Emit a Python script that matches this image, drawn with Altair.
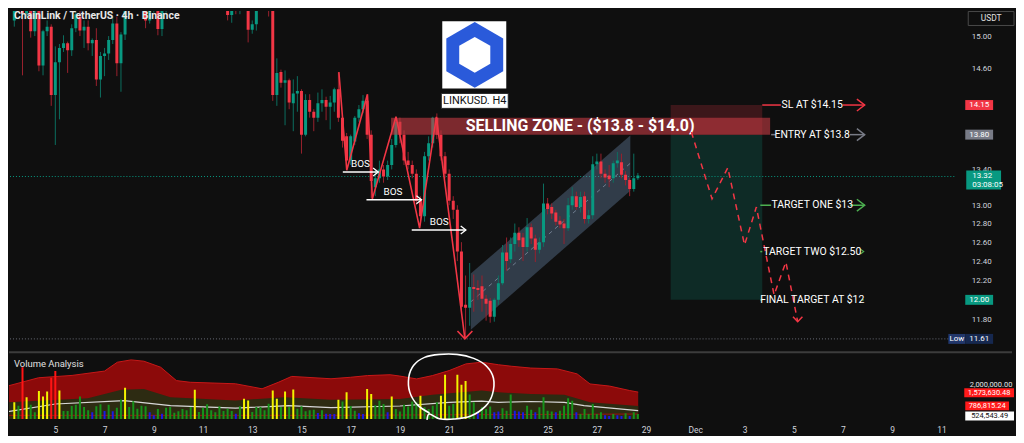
import altair as alt
import pandas as pd

# ---------------- style ----------------
BG = "#0f0f0f"
UP, DOWN = "#089981", "#f23645"
UP_WICK, DOWN_WICK = "#0c6f60", "#99212d"
TXT = "#d1d4dc"
FONT = "Roboto"
W, H_MAIN, H_VOL = 950, 341, 68
X_DOM = [3.32, 41.32]          # day of Nov (Dec 1 = 31)
P_DOM = [11.498, 15.321]       # USDT, log scale
V_DOM = [0.0, 4.05]            # volume, millions

# ---------------- candle data (4h bars, Nov 3 08:00 onwards) ----------------
DAY0, FIRST_BAR, BARS_PER_DAY = 3, 2, 6
c_open = [
    15.20, 15.45, 15.62, 15.29, 15.40, 15.06, 15.48, 14.63, 15.06, 15.12,
    14.27, 14.67, 14.85, 14.91, 14.82, 15.10, 15.25, 15.07, 15.12, 14.91,
    14.95, 14.46, 14.75, 14.78, 14.95, 15.16, 14.66, 15.02, 15.50, 15.80,
    15.70, 15.90, 15.60, 15.20, 15.38, 15.55, 15.09, 15.36, 15.55, 15.80,
    16.10, 16.00, 16.30, 16.20, 16.40, 16.20, 16.10, 16.30, 16.00, 15.90,
    16.10, 15.80, 15.55, 15.27, 15.40, 15.32, 15.50, 15.37, 15.08, 15.15,
    15.50, 15.60, 15.55, 15.33, 14.27, 14.55, 14.42, 14.45, 14.17, 14.29,
    14.32, 13.80, 14.21, 14.07, 14.00, 14.17, 14.21, 14.13, 14.18, 14.34,
    14.00, 13.78, 13.50, 13.72, 14.00, 14.10, 14.20, 13.80, 13.20, 13.30,
    13.40, 13.32, 13.45, 13.68, 13.95, 13.80, 13.50, 13.45, 13.35, 13.05,
    12.88, 13.55, 13.70, 14.00, 13.80, 13.55, 13.35, 13.05, 12.95, 12.50,
    11.95, 11.92, 12.13, 12.12, 12.14, 12.01, 11.99, 11.83, 12.00, 12.17,
    12.49, 12.42, 12.58, 12.70, 12.65, 12.55, 12.76, 12.64, 12.52, 12.60,
    13.02, 12.98, 12.92, 12.83, 12.80, 12.75, 13.00, 13.10, 12.98, 13.10,
    12.85, 12.89, 13.46, 13.49, 13.35, 13.33, 13.30, 13.47, 13.48, 13.34,
    13.28, 13.18, 13.30,
]
c_high = [
    15.50, 15.70, 15.70, 15.55, 15.48, 15.60, 15.60, 15.08, 15.20, 15.15,
    14.87, 14.90, 15.01, 14.93, 15.15, 15.45, 15.35, 15.20, 15.20, 14.97,
    15.10, 14.80, 14.85, 15.00, 15.25, 15.25, 15.05, 15.60, 15.95, 16.00,
    16.05, 16.00, 15.70, 15.45, 15.60, 15.60, 15.45, 15.65, 15.90, 16.15,
    16.20, 16.40, 16.45, 16.50, 16.55, 16.30, 16.40, 16.35, 16.10, 16.20,
    16.15, 15.90, 15.60, 15.50, 15.45, 15.55, 15.60, 15.42, 15.20, 15.60,
    15.70, 15.70, 15.60, 15.38, 14.72, 14.58, 14.57, 14.47, 14.46, 14.50,
    14.34, 14.28, 14.28, 14.10, 14.30, 14.34, 14.25, 14.26, 14.36, 14.55,
    14.05, 13.82, 13.80, 14.02, 14.15, 14.27, 14.27, 13.85, 13.40, 13.50,
    13.45, 13.50, 13.75, 14.01, 14.00, 13.85, 13.60, 13.50, 13.40, 13.10,
    13.60, 13.78, 14.01, 14.05, 13.85, 13.60, 13.40, 13.10, 13.00, 12.60,
    12.25, 12.38, 12.26, 12.20, 12.25, 12.05, 12.02, 12.02, 12.25, 12.57,
    12.65, 12.65, 12.80, 12.76, 12.70, 12.86, 12.80, 12.68, 12.65, 13.24,
    13.08, 13.02, 12.95, 12.88, 12.85, 13.08, 13.20, 13.15, 13.15, 13.15,
    12.95, 13.55, 13.58, 13.58, 13.40, 13.45, 13.50, 13.60, 13.58, 13.38,
    13.30, 13.58, 13.36,
]
c_low = [
    15.12, 15.40, 14.51, 15.25, 14.98, 15.00, 14.56, 14.51, 15.00, 14.14,
    13.68, 13.98, 14.80, 14.54, 14.75, 15.05, 15.00, 14.85, 14.82, 14.75,
    14.38, 14.24, 14.50, 14.70, 14.90, 14.50, 14.31, 14.95, 15.45, 15.60,
    15.60, 15.50, 15.10, 15.16, 15.30, 15.01, 15.00, 15.30, 15.48, 15.70,
    15.90, 15.95, 16.10, 16.10, 16.10, 16.00, 16.00, 15.90, 15.80, 15.85,
    15.75, 15.50, 15.20, 15.17, 15.28, 15.28, 15.33, 14.92, 15.03, 15.07,
    15.45, 15.45, 15.25, 14.20, 14.14, 14.36, 13.91, 14.10, 13.84, 14.07,
    13.58, 13.78, 14.00, 13.84, 13.95, 14.07, 13.97, 13.86, 14.07, 13.95,
    13.65, 13.41, 13.45, 13.68, 13.95, 14.05, 13.75, 13.08, 13.10, 13.25,
    13.25, 13.28, 13.40, 13.65, 13.70, 13.45, 13.40, 13.30, 13.00, 12.78,
    12.82, 13.50, 13.65, 13.75, 13.50, 13.30, 13.00, 12.85, 12.40, 11.85,
    11.61, 11.74, 11.88, 12.00, 11.88, 11.79, 11.77, 11.78, 11.95, 12.15,
    12.30, 12.38, 12.50, 12.55, 12.40, 12.50, 12.58, 12.39, 12.48, 12.55,
    12.90, 12.85, 12.78, 12.75, 12.58, 12.72, 12.95, 12.95, 12.92, 12.80,
    12.80, 12.85, 13.40, 13.30, 13.25, 13.20, 13.25, 13.42, 13.30, 13.22,
    13.10, 13.15, 13.28,
]
c_close = [
    15.45, 15.62, 15.29, 15.45, 15.06, 15.48, 14.63, 15.06, 15.12, 14.27,
    14.67, 14.85, 14.91, 14.82, 15.10, 15.28, 15.07, 15.12, 14.91, 14.95,
    14.46, 14.75, 14.78, 14.95, 15.16, 14.66, 15.02, 15.50, 15.80, 15.70,
    15.90, 15.60, 15.20, 15.38, 15.50, 15.09, 15.36, 15.55, 15.80, 16.10,
    16.00, 16.30, 16.20, 16.40, 16.20, 16.10, 16.30, 16.00, 15.90, 16.10,
    15.80, 15.55, 15.27, 15.40, 15.32, 15.45, 15.37, 15.08, 15.15, 15.50,
    15.60, 15.55, 15.33, 14.27, 14.54, 14.42, 14.45, 14.18, 14.29, 14.32,
    13.80, 14.21, 14.07, 14.00, 14.17, 14.21, 14.13, 14.18, 14.34, 14.00,
    13.73, 13.50, 13.78, 14.00, 14.10, 14.20, 13.80, 13.27, 13.30, 13.40,
    13.32, 13.45, 13.68, 13.95, 13.80, 13.50, 13.45, 13.35, 13.05, 12.88,
    13.55, 13.70, 14.00, 13.80, 13.55, 13.35, 13.05, 12.95, 12.50, 11.93,
    11.92, 12.13, 12.11, 12.10, 12.01, 11.96, 11.83, 12.00, 12.17, 12.49,
    12.40, 12.58, 12.70, 12.62, 12.55, 12.76, 12.64, 12.52, 12.60, 13.02,
    12.96, 12.91, 12.82, 12.79, 12.75, 13.00, 13.10, 12.98, 13.09, 12.85,
    12.89, 13.46, 13.49, 13.35, 13.31, 13.29, 13.47, 13.50, 13.34, 13.28,
    13.18, 13.30, 13.33,
]
# volume per bar (millions) and the indicator's bar class
vol_m = [
    1.00, 0.80, 3.10, 1.30, 0.85, 0.40, 1.67, 1.35, 1.65, 2.47,
    2.87, 1.70, 0.48, 0.48, 0.78, 0.86, 1.35, 0.72, 0.52, 0.40,
    0.76, 0.88, 0.48, 0.86, 0.46, 0.68, 1.17, 1.87, 0.72, 1.07,
    0.62, 0.80, 0.76, 0.40, 0.22, 0.60, 0.32, 0.68, 0.72, 0.38,
    0.46, 0.60, 0.52, 0.72, 1.75, 0.42, 0.68, 0.88, 0.52, 0.40,
    0.76, 0.48, 0.62, 0.48, 0.32, 0.76, 1.21, 1.11, 0.42, 0.72,
    0.72, 0.52, 0.92, 1.71, 1.21, 0.72, 1.65, 0.72, 1.77, 0.62,
    0.76, 0.46, 0.52, 0.56, 0.36, 0.52, 0.32, 0.30, 0.30, 1.15,
    1.05, 1.60, 0.78, 0.50, 0.35, 0.30, 1.80, 1.50, 0.82, 1.10,
    0.90, 0.40, 1.35, 0.60, 0.45, 0.85, 0.75, 1.05, 1.00, 1.40,
    0.70, 0.60, 0.80, 1.00, 1.40, 2.65, 0.80, 0.90, 2.65, 2.05,
    2.27, 1.47, 1.00, 0.38, 0.70, 0.60, 0.75, 0.40, 0.45, 0.65,
    0.50, 1.47, 0.50, 0.45, 0.40, 0.80, 0.55, 0.40, 0.70, 1.30,
    0.50, 0.45, 0.40, 0.50, 0.80, 1.25, 1.10, 0.40, 0.30, 0.60,
    0.30, 0.90, 0.30, 0.40, 0.22, 0.18, 0.30, 0.22, 0.18, 0.35,
    0.18, 0.40, 0.30,
]
vol_kind_rows = [
    "ygryggyyyr", "rygggggggb", "ggbgbggygg", "gggbbgbggg", "ggggyggggg",
    "ggggbgyygg", "gggyygygyg", "ggggbgbbby", "gyggbbyygg", "gbyggggggy",
    "ggggyyggyy", "yggbgggbbg", "ggbbbggbgg", "ggbggggbgg", "ggggbbgbbg",
    "bgg",
]
vol_kind = [ch for row in vol_kind_rows for ch in row]

# volume indicator bands (day, millions)
band_hi_day = [3.0, 4.32, 5.68, 7.0, 7.52, 8.08, 8.6, 9.28, 9.92, 10.48, 12.32, 13.4, 14.08, 14.6, 16.2,
               17.0, 17.68, 18.6, 19.0, 19.68, 20.32, 21.0, 21.68, 22.32, 23.0, 23.52, 24.32, 25.4,
               26.2, 26.72, 27.52, 28.32, 28.68]
band_hi_val = [1.95, 2.47, 2.61, 2.87, 3.40, 3.54, 3.46, 3.10, 2.30, 2.20, 2.11, 1.81, 2.21, 2.55, 2.41,
               2.50, 2.60, 2.65, 2.57, 2.40, 2.60, 2.90, 3.30, 3.40, 3.25, 3.16, 3.05, 3.00,
               2.70, 2.10, 1.97, 1.71, 1.61]
band_mid_day = [3.0, 4.32, 6.32, 7.68, 8.6, 9.68, 12.32, 14.32, 16.2, 19.0, 20.32, 22.32, 23.0, 24.32,
                25.68, 26.72, 28.68]
band_mid_val = [1.00, 1.10, 1.25, 1.75, 1.80, 1.31, 1.11, 1.31, 1.15, 1.20, 1.45, 1.70, 1.60, 1.50,
                1.45, 1.00, 0.78]
avg_day = [3.0, 5.0, 7.8, 9.68, 12.32, 14.48, 16.2, 19.0, 21.0, 22.32, 23.0, 24.32, 25.68, 26.48, 28.68]
avg_val = [0.42, 0.90, 1.10, 0.80, 0.65, 0.80, 0.68, 0.78, 1.00, 1.07, 1.00, 1.05, 1.00, 0.80, 0.50]
band_lo_day = [3.0, 16.2, 28.68]
band_lo_val = [0.22, 0.22, 0.30]

# hand-drawn circle around the Nov 21 volume spike (day, millions)
circle_day = [20.2, 19.72, 19.4, 19.36, 19.56, 20.0, 20.6, 21.32, 22.0, 22.52, 22.8, 22.76, 22.48, 21.88,
              21.2, 20.6, 20.2, 20.1]
circle_val = [0.36, 0.83, 1.61, 2.50, 3.22, 3.69, 3.87, 3.87, 3.63, 3.16, 2.44, 1.49, 0.77, 0.18,
              0.0, 0.02, 0.30, -0.05]

# ---------------- drawings ----------------
zig_day = [16.52, 16.84, 17.68, 17.88, 18.84, 19.80, 20.48, 21.64]
zig_price = [14.55, 13.39, 14.28, 13.07, 14.01, 12.75, 14.01, 11.61]

bos_start = [16.68, 17.64, 19.48]
bos_end = [18.12, 19.88, 21.68]
bos_price = [13.37, 13.06, 12.73]
bos_text_day = [17.40, 18.72, 20.60]

chan_day = [21.88, 28.36]
chan_low = [11.70, 13.16]
chan_high = [12.27, 13.79]
chan_mid = [11.98, 13.47]

zone_day = [18.64, 34.04]
zone_price = [13.80, 14.00]
pos_day = [30.0, 33.72]
stop_loss, entry, final_target = 14.15, 13.80, 12.00

proj_day = [30.84, 31.68, 32.32, 33.0, 33.48, 34.2, 34.68, 35.16]
proj_price = [13.83, 13.07, 13.42, 12.57, 12.98, 12.05, 12.39, 11.78]

label_day = 35.75
label_text = ["SL AT $14.15", "ENTRY AT $13.8", "TARGET ONE $13", "TARGET TWO $12.50", "FINAL TARGET AT $12"]
label_price = [14.15, 13.80, 13.00, 12.50, 12.00]

last_price, period_low = 13.32, 11.61
# scale labels left visible by the price tags
PRICE_TICKS = [11.8, 12.2, 12.4, 12.6, 12.8, 13.0, 13.4, 14.6, 15.0]
DAY_TICKS = [5, 7, 9, 11, 13, 15, 17, 19, 21, 23, 25, 27, 29, 31, 33, 35, 37, 39, 41]

RED_L, GRAY_L, GREEN_L = "#f23645", "#787b86", "#4caf50"


def rect_shape(w, h, dy=0.0):
    half = w / 2.0
    t = (-h / 2.0 + dy) / half
    b = (h / 2.0 + dy) / half
    return f"M-1,{t:.4f}L1,{t:.4f}L1,{b:.4f}L-1,{b:.4f}Z", w * w


CHEV_R = "M-1.3,-1L0,0L-1.3,1"
CHEV_D = "M-1,-1.07L0,0L1,-1.07"
HEX = "M0,-1L0.866,-0.5L0.866,0.5L0,1L-0.866,0.5L-0.866,-0.5Z"

# ---------------- frames ----------------
n = len(c_open)
bar_day = [DAY0 + (FIRST_BAR + i) / BARS_PER_DAY for i in range(n)]
candles = pd.DataFrame({"day": bar_day, "o": c_open, "h": c_high, "l": c_low, "c": c_close})
up = [cc >= oo for oo, cc in zip(c_open, c_close)]
candles["body"] = [UP if u else DOWN for u in up]
candles["wick"] = [UP_WICK if u else DOWN_WICK for u in up]

VCOL = {"g": "#16921a", "y": "#f2f200", "r": "#ff1414", "b": "#1a1ae6"}
vol = pd.DataFrame({"day": bar_day[:len(vol_m)], "v": vol_m,
                    "col": [VCOL[k] for k in vol_kind[:len(vol_m)]]})

xs = alt.Scale(domain=X_DOM, nice=False, zero=False)
ps = alt.Scale(type="log", domain=P_DOM, nice=False)
vs = alt.Scale(domain=V_DOM, nice=False, zero=False)

price_axis = alt.Axis(orient="right", values=PRICE_TICKS, format=".2f", labelColor=TXT, labelFont=FONT,
                      labelFontSize=8, labelPadding=17, ticks=False, domain=False, grid=False, title=None,
                      labelAlign="left", labelOverlap=False)
time_axis = alt.Axis(values=DAY_TICKS,
                     labelExpr="datum.value == 31 ? 'Dec' : (datum.value > 30 ? toString(datum.value - 30) : toString(datum.value))",
                     labelColor=TXT, labelFont=FONT, labelFontSize=8.5, labelPadding=7, ticks=False,
                     domain=False, grid=False, title=None, labelOverlap=False, labelFlush=False)
vol_axis = alt.Axis(orient="right", values=[2.0], labelExpr="format(datum.value * 1000000, ',.2f')",
                    labelColor="#e6e6e6", labelFont=FONT, labelFontSize=7.5, labelPadding=15, ticks=False,
                    domain=False, grid=False, title=None, labelAlign="left", labelOffset=-1.5)


def PX(f):
    return alt.X(f, type="quantitative", scale=xs, axis=None)


def PY(f):
    return alt.Y(f, type="quantitative", scale=ps, axis=price_axis)


def VX(f):
    return alt.X(f, type="quantitative", scale=xs, axis=time_axis)


def VY(f):
    return alt.Y(f, type="quantitative", scale=vs, axis=vol_axis)


def df(**kw):
    return pd.DataFrame(kw)


layers = []

# price lines
layers.append(alt.Chart(df(p=[last_price, period_low], col=[UP, "#6a6d78"])).mark_rule(
    strokeDash=[1, 2], strokeWidth=1).encode(y=PY("p"), color=alt.Color("col:N", scale=None)))

# ascending channel
layers.append(alt.Chart(df(day=chan_day, lo=chan_low, hi=chan_high)).mark_area(
    color="#6a85a8", opacity=0.38).encode(x=PX("day"), y=PY("lo"), y2="hi"))
layers.append(alt.Chart(df(day=chan_day, mid=chan_mid)).mark_line(
    color="#8a99ad", strokeDash=[4, 4], strokeWidth=1, opacity=0.7).encode(x=PX("day"), y=PY("mid")))

# position tool
layers.append(alt.Chart(df(x0=[pos_day[0]] * 2, x1=[pos_day[1]] * 2, p0=[entry, final_target],
                           p1=[stop_loss, entry], col=["#f23645", "#089981"])).mark_rect(opacity=0.2).encode(
    x=PX("x0"), x2="x1", y=PY("p0"), y2="p1", color=alt.Color("col:N", scale=None)))

# candles (clipped to the pane)
layers.append(alt.Chart(candles).mark_rule(strokeWidth=1, clip=True).encode(
    x=PX("day"), y=PY("l"), y2="h", color=alt.Color("wick:N", scale=None)))
layers.append(alt.Chart(candles).mark_bar(size=3, clip=True).encode(
    x=PX("day"), y=PY("o"), y2="c", color=alt.Color("body:N", scale=None)))

# selling zone
layers.append(alt.Chart(df(x0=[zone_day[0]], x1=[zone_day[1]], p0=[zone_price[0]], p1=[zone_price[1]])).mark_rect(
    color="#c43b43", opacity=0.6).encode(x=PX("x0"), x2="x1", y=PY("p0"), y2="p1"))
layers.append(alt.Chart(df(d=[(zone_day[0] + zone_day[1]) / 2 - 0.02], p=[13.905],
                           t=["SELLING ZONE - ($13.8 - $14.0)"])).mark_text(
    font=FONT, fontSize=16, fontWeight="bold", color="#ffffff", align="center", baseline="middle").encode(
    x=PX("d"), y=PY("p"), text="t:N"))

# zigzag swing line + arrow
layers.append(alt.Chart(df(day=zig_day, p=zig_price, i=list(range(len(zig_day))))).mark_line(
    color=RED_L, strokeWidth=1.6).encode(x=PX("day"), y=PY("p"), order="i:Q"))
layers.append(alt.Chart(df(day=[zig_day[-1]], p=[zig_price[-1]])).mark_point(
    shape=CHEV_D, size=225, filled=False, color=RED_L, strokeWidth=1.6, opacity=1).encode(x=PX("day"), y=PY("p")))

# BOS
bos = df(x0=bos_start, x1=bos_end, p=bos_price, td=bos_text_day, t=["BOS"] * 3)
layers.append(alt.Chart(bos).mark_rule(color="#ffffff", strokeWidth=1.5).encode(x=PX("x0"), x2="x1", y=PY("p")))
layers.append(alt.Chart(bos).mark_point(shape=CHEV_R, size=64, filled=False, color="#ffffff", strokeWidth=1.3,
                                        opacity=1).encode(x=PX("x1"), y=PY("p")))
layers.append(alt.Chart(bos).mark_text(font=FONT, fontSize=10, color="#ffffff", dy=-8).encode(
    x=PX("td"), y=PY("p"), text="t:N"))

# projected path
layers.append(alt.Chart(df(day=proj_day, p=proj_price, i=list(range(len(proj_day))))).mark_line(
    color=RED_L, strokeWidth=1.5, strokeDash=[6, 5]).encode(x=PX("day"), y=PY("p"), order="i:Q"))
layers.append(alt.Chart(df(day=[proj_day[-1]], p=[proj_price[-1]])).mark_point(
    shape=CHEV_D, size=90, filled=False, color=RED_L, strokeWidth=1.5, opacity=1).encode(x=PX("day"), y=PY("p")))

# trade level labels
segs = df(x0=[33.72, 37.0, 34.08, 37.28, 33.64, 37.28, 33.64, 33.64, 37.76],
          x1=[34.48, 37.88, 34.28, 37.88, 34.08, 37.88, 33.72, 33.72, 37.84],
          p=[14.15, 14.15, 13.80, 13.80, 13.00, 13.00, 12.50, 12.00, 12.00],
          col=[RED_L, RED_L, GRAY_L, GRAY_L, GREEN_L, GREEN_L, GREEN_L, GREEN_L, GREEN_L])
layers.append(alt.Chart(segs).mark_rule(strokeWidth=1.5).encode(
    x=PX("x0"), x2="x1", y=PY("p"), color=alt.Color("col:N", scale=None)))
chev = df(d=[37.88, 37.88, 37.88], p=[14.15, 13.80, 13.00], col=[RED_L, GRAY_L, GREEN_L])
layers.append(alt.Chart(chev).mark_point(shape=CHEV_R, size=144, filled=False, strokeWidth=1.5, opacity=1).encode(
    x=PX("d"), y=PY("p"), color=alt.Color("col:N", scale=None)))
layers.append(alt.Chart(df(d=[37.84], p=[12.50])).mark_point(
    shape=CHEV_R, size=25, filled=False, strokeWidth=1.2, opacity=1, color=GREEN_L).encode(x=PX("d"), y=PY("p")))
layers.append(alt.Chart(df(d=[label_day] * 5, p=label_price, t=label_text)).mark_text(
    font=FONT, fontSize=10.5, color="#ffffff", align="center", baseline="middle").encode(
    x=PX("d"), y=PY("p"), text="t:N"))

# logo
layers.append(alt.Chart(df(x0=[20.72], x1=[23.32], p0=[14.35], p1=[15.19])).mark_rect(color="#ffffff").encode(
    x=PX("x0"), x2="x1", y=PY("p0"), y2="p1"))
layers.append(alt.Chart(df(d=[22.04], p=[14.764])).mark_point(shape=HEX, size=4356, filled=True, color="#2a5ada",
                                                              opacity=1).encode(x=PX("d"), y=PY("p")))
layers.append(alt.Chart(df(d=[22.04], p=[14.764])).mark_point(shape=HEX, size=1300, filled=True, color="#ffffff",
                                                              opacity=1).encode(x=PX("d"), y=PY("p")))
layers.append(alt.Chart(df(x0=[20.68], x1=[23.40], p0=[14.11], p1=[14.29])).mark_rect(
    color="#ffffff", stroke="#222222", strokeWidth=1).encode(x=PX("x0"), x2="x1", y=PY("p0"), y2="p1"))
layers.append(alt.Chart(df(d=[22.04], p=[14.20], t=["LINKUSD. H4"])).mark_text(
    font=FONT, fontSize=11, color="#111111", align="center", baseline="middle").encode(
    x=PX("d"), y=PY("p"), text="t:N"))

# header
layers.append(alt.Chart(df(d=[X_DOM[0]], p=[P_DOM[1]], t=["ChainLink / TetherUS · 4h · Binance"])).mark_text(
    font=FONT, fontSize=10.5, fontWeight="bold", color="#e8e8e8", align="left", baseline="top", dy=0, dx=0).encode(
    x=PX("d"), y=PY("p"), text="t:N"))

# price-scale tags
tag_path, tag_size = rect_shape(28, 10)
tags = df(p=[stop_loss, entry, final_target], t=["14.15", "13.80", "12.00"], col=[RED_L, GRAY_L, UP])
layers.append(alt.Chart(tags).mark_point(shape=tag_path, size=tag_size, filled=True, opacity=1, strokeWidth=0).encode(
    x=alt.value(975), y=PY("p"), color=alt.Color("col:N", scale=None)))
layers.append(alt.Chart(tags).mark_text(font=FONT, fontSize=8, color="#ffffff").encode(
    x=alt.value(975), y=PY("p"), text="t:N"))
lp_path, lp_size = rect_shape(35, 19, 3.5)
layers.append(alt.Chart(df(p=[last_price])).mark_point(shape=lp_path, size=lp_size, filled=True, opacity=1,
                                                       strokeWidth=0, color=UP).encode(x=alt.value(979.5), y=PY("p")))
layers.append(alt.Chart(df(p=[last_price], t=["13.32"])).mark_text(
    font=FONT, fontSize=8, color="#ffffff", align="left").encode(x=alt.value(968), y=PY("p"), text="t:N"))
layers.append(alt.Chart(df(p=[last_price], t=["03:08:05"])).mark_text(
    font=FONT, fontSize=8, color="#ffffff", align="left", dy=9).encode(x=alt.value(968), y=PY("p"), text="t:N"))
low_path, low_size = rect_shape(17, 10)
layers.append(alt.Chart(df(p=[period_low])).mark_point(shape=low_path, size=low_size, filled=True, opacity=1,
                                                       strokeWidth=0, color="#22376b").encode(x=alt.value(952.5), y=PY("p")))
layers.append(alt.Chart(df(p=[period_low])).mark_point(shape=tag_path, size=tag_size, filled=True, opacity=1,
                                                       strokeWidth=0, color="#16284f").encode(x=alt.value(975), y=PY("p")))
layers.append(alt.Chart(df(p=[period_low], t=["Low"])).mark_text(font=FONT, fontSize=8, color="#ffffff").encode(
    x=alt.value(952.5), y=PY("p"), text="t:N"))
layers.append(alt.Chart(df(p=[period_low], t=["11.61"])).mark_text(font=FONT, fontSize=8, color="#ffffff").encode(
    x=alt.value(975), y=PY("p"), text="t:N"))
usdt_path, usdt_size = rect_shape(46, 14, 7.5)
layers.append(alt.Chart(df(p=[P_DOM[1]])).mark_point(shape=usdt_path, size=usdt_size, filled=False, opacity=1,
                                                     strokeWidth=1, color="#4a4a4a").encode(x=alt.value(987), y=PY("p")))
layers.append(alt.Chart(df(p=[P_DOM[1]], t=["USDT"])).mark_text(
    font=FONT, fontSize=8.5, color="#e0e0e0", baseline="middle", dy=7.5).encode(x=alt.value(987), y=PY("p"), text="t:N"))

main = alt.layer(*layers).properties(width=W, height=H_MAIN)

# ---------------- volume panel ----------------
vl = []
vl.append(alt.Chart(df(day=band_hi_day, v=band_hi_val)).mark_area(color="#8c0a0a", clip=True).encode(
    x=VX("day"), y=VY("v")))
vl.append(alt.Chart(df(day=band_hi_day, v=band_hi_val)).mark_line(color="#c81818", strokeWidth=1, clip=True).encode(
    x=VX("day"), y=VY("v")))
vl.append(alt.Chart(df(day=band_mid_day, v=band_mid_val)).mark_area(color="#2d2b12", clip=True).encode(
    x=VX("day"), y=VY("v")))
vl.append(alt.Chart(df(day=band_lo_day, v=band_lo_val)).mark_line(color="#a01010", strokeWidth=1, clip=True).encode(
    x=VX("day"), y=VY("v")))
vl.append(alt.Chart(df(day=avg_day, v=avg_val)).mark_line(color="#d8d8d8", strokeWidth=1.2, clip=True).encode(
    x=VX("day"), y=VY("v")))
vl.append(alt.Chart(vol).mark_bar(size=2, clip=True).encode(x=VX("day"), y=VY("v"), color=alt.Color("col:N", scale=None)))
vl.append(alt.Chart(df(day=circle_day, v=circle_val, i=list(range(len(circle_day))))).mark_line(
    color="#ffffff", strokeWidth=1.6, interpolate="cardinal").encode(x=VX("day"), y=VY("v"), order="i:Q"))
vl.append(alt.Chart(df(d=[X_DOM[0]], v=[3.28], t=["Volume Analysis"])).mark_text(
    font=FONT, fontSize=9.5, color="#e0e0e0", align="left", baseline="middle").encode(
    x=VX("d"), y=VY("v"), text="t:N"))
vtag_v = [1.573630, 0.786815, 0.18]
vtag_t = ["1,573,630.48", "786,815.24", "524,543.49"]
for val, txt, w, cx, fill, fg in zip(vtag_v, vtag_t, [50, 44, 49], [985, 983, 985.5],
                                     ["#ff1a1a", "#ff1a1a", "#ffffff"], ["#ffffff", "#ffffff", "#111111"]):
    pth, sz = rect_shape(w, 9)
    vl.append(alt.Chart(df(v=[val])).mark_point(shape=pth, size=sz, filled=True, opacity=1, strokeWidth=0,
                                                color=fill).encode(x=alt.value(cx), y=VY("v")))
    vl.append(alt.Chart(df(v=[val], t=[txt])).mark_text(font=FONT, fontSize=7.5, color=fg).encode(
        x=alt.value(cx), y=VY("v"), text="t:N"))
vl.append(alt.Chart(df(a=[0])).mark_rule(color="#3c3c3c", strokeWidth=2).encode(
    x=alt.value(0), x2=alt.value(1008), y=alt.value(1)))

volp = alt.layer(*vl).properties(width=W, height=H_VOL)

chart = alt.vconcat(main, volp, spacing=0).properties(background=BG, padding=0).configure_view(stroke=None)
chart.save("out.html", embed_options={"renderer": "svg", "actions": False})
